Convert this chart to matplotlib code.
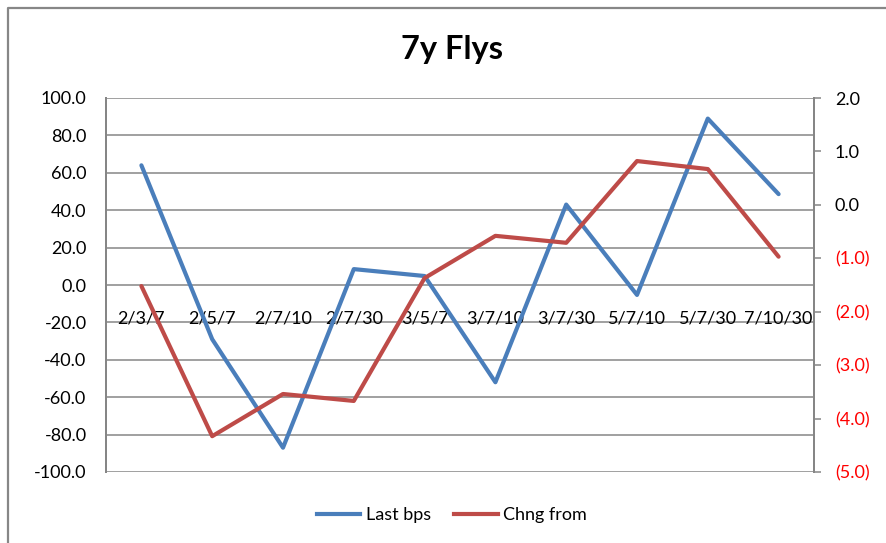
import numpy as np
import matplotlib
matplotlib.use("Agg")
import matplotlib.pyplot as plt
import matplotlib.transforms as mtransforms
from matplotlib.lines import Line2D

plt.rcParams['font.family'] = ['Lato', 'DejaVu Sans']

categories = ['2/3/7', '2/5/7', '2/7/10', '2/7/30', '3/5/7',
              '3/7/10', '3/7/30', '5/7/10', '5/7/30', '7/10/30']
last_bps = [64.0, -29.0, -87.0, 8.5, 4.8, -52.0, 43.0, -5.3, 89.0, 48.6]
chng_from = [-1.52, -4.33, -3.54, -3.67, -1.37, -0.58, -0.71, 0.82, 0.67, -0.97]

left_ticks = np.arange(-100, 101, 20)
right_ticks = np.arange(-5, 3, 1)

blue = '#4A7EBB'
red = '#BE4B48'
grid_c = '#868686'

W, H = 886, 543
fig = plt.figure(figsize=(W / 100, H / 100), dpi=100)
ax = fig.add_axes([106 / W, 1 - 472 / H, (814 - 106) / W, (472 - 98) / H])
ax2 = ax.twinx()

x = np.arange(len(categories))
ax.plot(x, last_bps, color=blue, lw=3, zorder=3, solid_capstyle='round',
        label='Last bps')
ax2.plot(x, chng_from, color=red, lw=3, zorder=3, solid_capstyle='round',
         label='Chng from')

ax.set_xlim(-0.5, len(categories) - 0.5)
ax.set_ylim(-100, 100)
ax.set_yticks(left_ticks)
ax.set_yticklabels(['%.1f' % v for v in left_ticks])
ax.yaxis.grid(True, color=grid_c, lw=1.1)
ax.set_axisbelow(True)
ax.tick_params(axis='y', length=0, pad=14, labelsize=13)
ax.set_xticks([])

ax2.set_ylim(-5, 2)
ax2.set_yticks(right_ticks)
ax2.set_yticklabels(['(%.1f)' % -v if v < 0 else '%.1f' % v for v in right_ticks])
for v, lbl in zip(right_ticks, ax2.get_yticklabels()):
    lbl.set_color('red' if v < 0 else 'black')
ax2.tick_params(axis='y', length=5, width=1.1, color=grid_c, pad=10, labelsize=13)

for a in (ax, ax2):
    a.spines['top'].set_visible(False)
    a.spines['bottom'].set_visible(False)
    a.spines['left'].set_color(grid_c)
    a.spines['right'].set_color(grid_c)
    a.spines['left'].set_linewidth(1.4)
    a.spines['right'].set_linewidth(1.4)

# category labels sit under the zero line, like Excel
trans = mtransforms.offset_copy(ax.transData, fig=fig, y=-34, units='dots')
for i, c in enumerate(categories):
    ax.text(i, 0, c, transform=trans, ha='center', va='center', fontsize=13,
            zorder=1)

fig.text(452 / W, 1 - 49 / H, '7y Flys', ha='center', va='center',
         fontsize=23.5, fontweight='bold')

handles = [Line2D([], [], color=blue, lw=3), Line2D([], [], color=red, lw=3)]
fig.legend(handles, ['Last bps', 'Chng from'], loc='center', ncol=2,
           bbox_to_anchor=(452 / W, 1 - 515 / H), frameon=False, fontsize=13,
           handlelength=2.4, handletextpad=0.3, columnspacing=1.3)

# chart frame (left and top edges visible)
fig.add_artist(Line2D([8 / W, 8 / W, 1], [0, 1 - 8 / H, 1 - 8 / H],
                      transform=fig.transFigure, color='#878787', lw=1.6))

fig.savefig('out.png', dpi=100)
